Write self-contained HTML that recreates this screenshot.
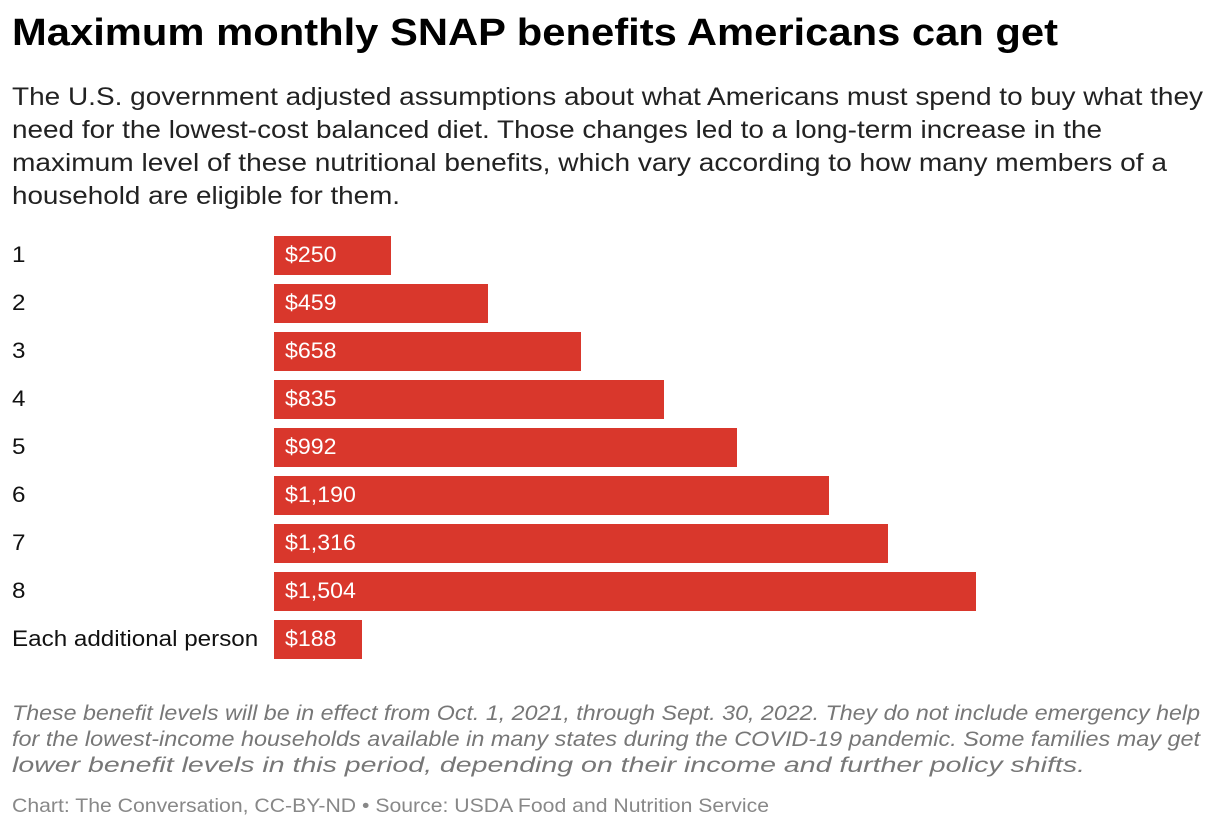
<!DOCTYPE html>
<html><head><meta charset="utf-8"><style>
body{margin:0;width:1220px;height:830px;background:#fff;font-family:"Liberation Sans",Arial,sans-serif;color:#000;position:relative;overflow:hidden}
.t{position:absolute;left:12px;white-space:nowrap;transform-origin:0 0}
.title{top:12px;font-size:38px;font-weight:bold}
.sub{font-size:25px;color:#222}
.note{font-size:21px;font-style:italic;color:#777}
.src{top:795px;font-size:19.5px;color:#888}
.lab{position:absolute;left:12px;font-size:22px;color:#111;transform-origin:0 0;white-space:nowrap}
.bar{position:absolute;left:274px;height:39px;background:#d9372c}
.val{position:absolute;left:285px;font-size:22.5px;color:#fff;transform-origin:0 0;white-space:nowrap}
</style></head><body>
<div class="t title" data-w="1046">Maximum monthly SNAP benefits Americans can get</div>
<div>
<div class="t sub" style="top:83px" data-w="1191">The U.S. government adjusted assumptions about what Americans must spend to buy what they</div>
<div class="t sub" style="top:116px" data-w="1090">need for the lowest-cost balanced diet. Those changes led to a long-term increase in the</div>
<div class="t sub" style="top:149px" data-w="1155">maximum level of these nutritional benefits, which vary according to how many members of a</div>
<div class="t sub" style="top:182px" data-w="388">household are eligible for them.</div>
</div>
<div id="chart"></div>
<div>
<div class="t note" style="top:702px" data-w="1188">These benefit levels will be in effect from Oct. 1, 2021, through Sept. 30, 2022. They do not include emergency help</div>
<div class="t note" style="top:728px" data-w="1188">for the lowest-income households available in many states during the COVID-19 pandemic. Some families may get</div>
<div class="t note" style="top:754px" data-w="1073">lower benefit levels in this period, depending on their income and further policy shifts.</div>
</div>
<div class="t src" data-w="757">Chart: The Conversation, CC-BY-ND • Source: USDA Food and Nutrition Service</div>
<script>
const categories=["1","2","3","4","5","6","7","8","Each additional person"];
const values=[250,459,658,835,992,1190,1316,1504,188];
const valueLabels=["$250","$459","$658","$835","$992","$1,190","$1,316","$1,504","$188"];
const xMaxPx=702,xMax=1504,y0=236,pitch=48;
function xs(v){return v/xMax*xMaxPx;}
function ys(i){return y0+i*pitch;}
const c=document.getElementById('chart');
categories.forEach((cat,i)=>{
 const l=document.createElement('div');l.className='lab';
 
 
 l.style.top=(ys(i)+6)+'px';l.style.transform='scaleX(1.1)';l.textContent=cat;c.appendChild(l);
 const b=document.createElement('div');b.className='bar';
 
 
 b.style.top=ys(i)+'px';b.style.width=xs(values[i])+'px';c.appendChild(b);
 const v=document.createElement('div');v.className='val';
 
 
 v.style.top=(ys(i)+6)+'px';v.style.transform='scaleX(1.03)';v.textContent=valueLabels[i];c.appendChild(v);
});
document.querySelectorAll('[data-w]').forEach(e=>{
 const w=e.getBoundingClientRect().width;
 e.style.transform='scaleX('+(parseFloat(e.getAttribute('data-w'))/w)+')';
});
</script>
</body></html>
